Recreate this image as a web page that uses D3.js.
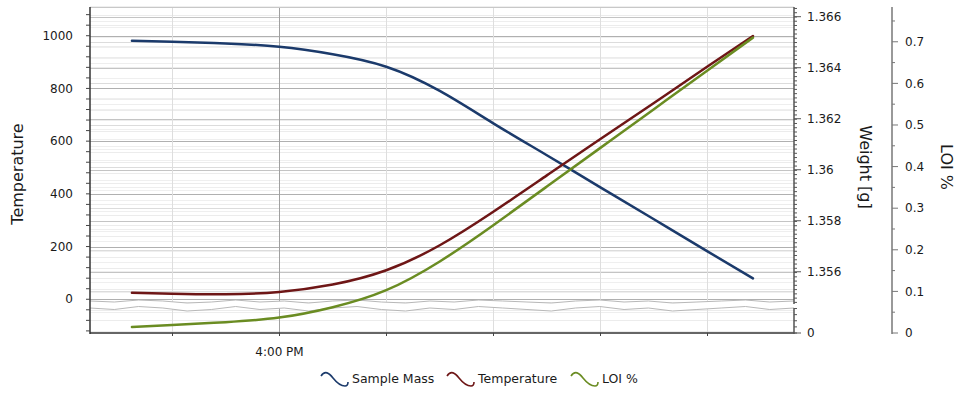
<!DOCTYPE html>
<html>
<head>
<meta charset="utf-8">
<script src="https://cdn.jsdelivr.net/npm/d3@7"></script>
<style>
  body { margin: 0; background: #fff; }
  svg { display: block; font-family: "DejaVu Sans", Verdana, sans-serif; }
</style>
</head>
<body>
<script>
// readings taken every 5 minutes
var times = ["15:46:15", "15:50", "15:55", "16:00", "16:05", "16:10", "16:15",
             "16:20", "16:25", "16:30", "16:35", "16:40", "16:44:15"];
var sampleMass = [1.36506, 1.36502, 1.36495, 1.36482, 1.36453, 1.36404, 1.36309,
                  1.36182, 1.36057, 1.35931, 1.35806, 1.35680, 1.35574];
var temperature = [25, 21, 19, 28, 56, 110, 205, 332, 470, 608, 745, 883, 999];
var loi = [0.0144, 0.019, 0.026, 0.037, 0.062, 0.103, 0.172, 0.259, 0.352,
           0.445, 0.538, 0.631, 0.710];

var xTicks = ["15:50", "16:00", "16:10", "16:20", "16:30", "16:40"];
var xTickLabels = ["", "4:00 PM", "", "", "", ""];
var tempTicks = [0, 200, 400, 600, 800, 1000];
var massTicks = [1.356, 1.358, 1.36, 1.362, 1.364, 1.366];
var massTickLabels = ["1.356", "1.358", "1.36", "1.362", "1.364", "1.366"];
var loiTicks = [0, 0.1, 0.2, 0.3, 0.4, 0.5, 0.6, 0.7];
var seriesNames = ["Sample Mass", "Temperature", "LOI %"];

var W = 963, H = 396;
var plot = { left: 90, right: 794, top: 7, bottom: 333 };
var colors = ["#1b3a6b", "#6e1616", "#6a8c22"];

var parse = d3.timeParse("%Y-%m-%d %H:%M:%S");
function toDate(s) { return parse("2020-01-01 " + (s.length == 5 ? s + ":00" : s)); }

var svg = d3.select("body").append("svg").attr("width", W).attr("height", H);

var x = d3.scaleTime()
  .domain([toDate("15:42:20"), toDate("16:48:05")])
  .range([plot.left, plot.right]);
var yTemp = d3.scaleLinear().domain([-128, 1109]).range([plot.bottom, plot.top]);
// weight axis has a break: 0 at the bottom, then jump to 1.35458
var yMass = d3.scaleLinear().domain([0, 1.35458, 1.36638]).range([plot.bottom, 308, plot.top]);
var yLoi = d3.scaleLinear().domain([0, 0.7836]).range([plot.bottom, plot.top]);

var grid = svg.append("g");
function hline(y, c) {
  grid.append("line").attr("x1", plot.left).attr("x2", plot.right)
    .attr("y1", Math.round(y) + 0.5).attr("y2", Math.round(y) + 0.5)
    .attr("stroke", c).attr("stroke-width", 1);
}
// minor grid lines
d3.range(-120, 1101, 40).forEach(function(v) { hline(yTemp(v), "#ececec"); });
d3.range(0.05, 0.78, 0.1).forEach(function(v) { hline(yLoi(v), "#eeeeee"); });
d3.range(1.3548, 1.3664, 0.0004).forEach(function(v) { hline(yMass(v), "#efefef"); });
// major grid lines
loiTicks.slice(1).forEach(function(v) { hline(yLoi(v), "#dcdcdc"); });
massTicks.forEach(function(v) { hline(yMass(v), "#c4c4c4"); });
tempTicks.forEach(function(v) { hline(yTemp(v), "#b0b0b0"); });

xTicks.forEach(function(t, i) {
  var xx = Math.round(x(toDate(t))) + 0.5;
  grid.append("line").attr("x1", xx).attr("x2", xx)
    .attr("y1", plot.top).attr("y2", plot.bottom)
    .attr("stroke", xTickLabels[i] ? "#a0a0a0" : "#dedede");
});
grid.append("line").attr("x1", plot.left).attr("x2", plot.right)
  .attr("y1", plot.top + 0.5).attr("y2", plot.top + 0.5).attr("stroke", "#c8c8c8");

// axis break band
var waveTop = [0, 1, -1, 0, 2, 1, -1, 1, 0, 2, 0, -1, 1, 2, 0, 1, -1, 0, 1, 2, 0, -1, 1, 0, 2, 1, 0, -1, 1, 0];
var bandY = 303;
var stepX = (plot.right - plot.left) / (waveTop.length - 1);
var upper = waveTop.map(function(d, i) { return [plot.left + i * stepX, bandY - 2 + d]; });
var lower = waveTop.map(function(d, i) { return [plot.left + i * stepX, bandY + 5 + d * 1.5]; });
var band = svg.append("g");
band.append("path")
  .attr("d", d3.line()(upper) + "L" + lower.slice().reverse().map(function(p) { return p.join(","); }).join("L") + "Z")
  .attr("fill", "#fff");
band.append("path").attr("d", d3.line()(upper)).attr("fill", "none").attr("stroke", "#b8b8b8");
band.append("path").attr("d", d3.line()(lower)).attr("fill", "none").attr("stroke", "#b8b8b8");

// axes
var tcol = "#1a1a1a";
var left = svg.append("g").attr("transform", "translate(" + plot.left + ",0)");
left.append("line").attr("y1", plot.top).attr("y2", plot.bottom + 1).attr("stroke", "#333").attr("stroke-width", 1.5);
d3.range(-120, 1101, 40).forEach(function(v) {
  left.append("line").attr("x1", -4).attr("x2", 0).attr("y1", yTemp(v)).attr("y2", yTemp(v)).attr("stroke", "#444");
});
tempTicks.forEach(function(v) {
  left.append("text").attr("x", -17).attr("y", yTemp(v)).attr("dy", "0.35em")
    .attr("text-anchor", "end").attr("font-size", 12).attr("fill", tcol).text(v);
});
svg.append("text").attr("transform", "translate(23,174) rotate(-90)")
  .attr("text-anchor", "middle").attr("font-size", 16).attr("fill", tcol).text("Temperature");

var bottom = svg.append("g").attr("transform", "translate(0," + plot.bottom + ")");
bottom.append("line").attr("x1", plot.left).attr("x2", plot.right).attr("stroke", "#333").attr("stroke-width", 1.5);
xTicks.forEach(function(t, i) {
  var xx = Math.round(x(toDate(t))) + 0.5;
  bottom.append("line").attr("x1", xx).attr("x2", xx).attr("y1", 0).attr("y2", 3).attr("stroke", "#444");
  bottom.append("text").attr("x", xx).attr("y", 19).attr("dy", "0.35em")
    .attr("text-anchor", "middle").attr("font-size", 12).attr("fill", tcol).text(xTickLabels[i]);
});

var right = svg.append("g").attr("transform", "translate(" + plot.right + ",0)");
right.append("line").attr("y1", plot.top).attr("y2", 304).attr("stroke", "#555").attr("stroke-width", 1.5);
right.append("line").attr("y1", 308).attr("y2", plot.bottom + 1).attr("stroke", "#555").attr("stroke-width", 1.5);
d3.range(1.3548, 1.3664, 0.000167).forEach(function(v) {
  right.append("line").attr("x1", 0).attr("x2", 3).attr("y1", yMass(v)).attr("y2", yMass(v)).attr("stroke", "#555");
});
[0, 0.00024, 0.00048, 0.00072, 0.00096].forEach(function(v) {
  var yy = plot.bottom - v * 25500;
  right.append("line").attr("x1", 0).attr("x2", 3).attr("y1", yy).attr("y2", yy).attr("stroke", "#555");
});
massTicks.concat([0]).forEach(function(v, i) {
  var yy = yMass(v);
  right.append("line").attr("x1", 0).attr("x2", 7).attr("y1", yy).attr("y2", yy).attr("stroke", "#555");
  right.append("text").attr("x", 13).attr("y", yy).attr("dy", "0.35em")
    .attr("font-size", 12).attr("fill", tcol).text(i < massTicks.length ? massTickLabels[i] : "0");
});
svg.append("text").attr("transform", "translate(860,167) rotate(90)")
  .attr("text-anchor", "middle").attr("font-size", 16).attr("fill", tcol).text("Weight [g]");

var loiX = 892;
var far = svg.append("g").attr("transform", "translate(" + loiX + ",0)");
far.append("line").attr("y1", plot.top).attr("y2", plot.bottom + 1).attr("stroke", "#777").attr("stroke-width", 1.5);
d3.range(0, 0.78, 0.05).forEach(function(v, i) {
  far.append("line").attr("x1", 0).attr("x2", i % 2 ? 3 : 6).attr("y1", yLoi(v)).attr("y2", yLoi(v)).attr("stroke", "#777");
});
loiTicks.forEach(function(v) {
  far.append("text").attr("x", 13).attr("y", yLoi(v)).attr("dy", "0.35em")
    .attr("font-size", 12).attr("fill", tcol).text(v);
});
svg.append("text").attr("transform", "translate(941,167) rotate(90)")
  .attr("text-anchor", "middle").attr("font-size", 16).attr("fill", tcol).text("LOI %");

// series
var dates = times.map(toDate);
var scales = [yMass, yTemp, yLoi];
var values = [sampleMass, temperature, loi];
var lines = svg.append("g");
values.forEach(function(vals, k) {
  var line = d3.line()
    .x(function(d, i) { return x(dates[i]); })
    .y(function(d) { return scales[k](d); })
    .curve(d3.curveNatural);
  lines.append("path").datum(vals).attr("d", line)
    .attr("fill", "none").attr("stroke", colors[k]).attr("stroke-width", 2.5)
    .attr("stroke-linecap", "round");
});

// legend
var legendX = [321, 447, 571];
var legend = svg.append("g").attr("transform", "translate(0,379)");
seriesNames.forEach(function(name, k) {
  var g = legend.append("g").attr("transform", "translate(" + legendX[k] + ",0)");
  g.append("path").attr("d", "M0,-3 C4,-9 8,-6 12,-1 C16,4 19,7 24,7 C26,7 27,5 27,3")
    .attr("fill", "none").attr("stroke", colors[k]).attr("stroke-width", 1.6);
  g.append("text").attr("x", 31).attr("y", 0).attr("dy", "0.35em")
    .attr("font-size", 12.5).attr("fill", tcol).text(name);
});
</script>
</body>
</html>
